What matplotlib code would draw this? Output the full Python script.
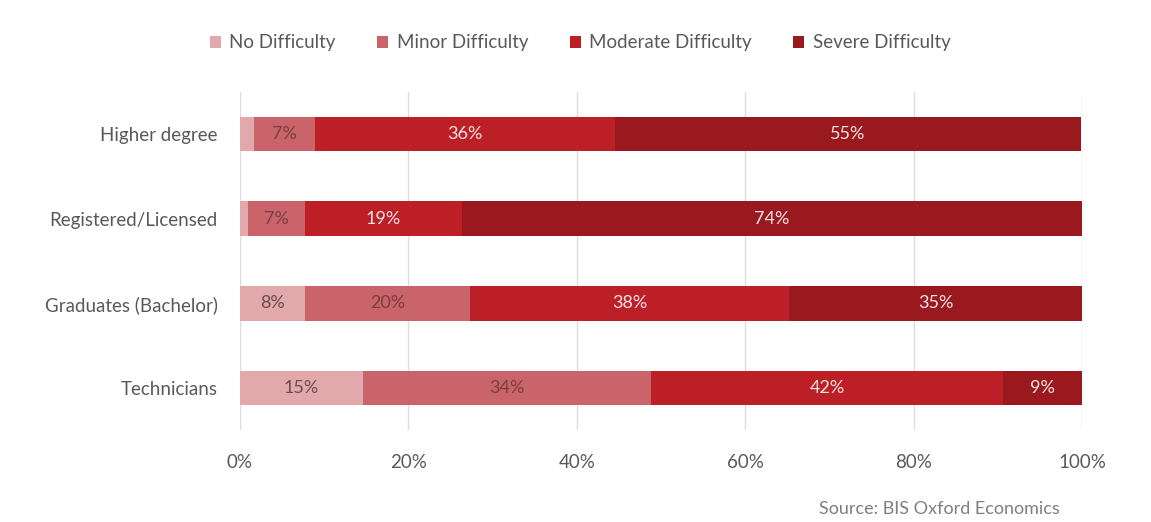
import matplotlib.pyplot as plt
import numpy as np

# Data (share of firms, %)
categories = ["Higher degree", "Registered/Licensed", "Graduates (Bachelor)", "Technicians"]
series_names = ["No Difficulty", "Minor Difficulty", "Moderate Difficulty", "Severe Difficulty"]
no_difficulty = [1.7, 0.9, 7.7, 14.6]
minor_difficulty = [7.2, 6.8, 19.6, 34.2]
moderate_difficulty = [35.6, 18.7, 37.9, 41.8]
severe_difficulty = [55.4, 73.6, 34.8, 9.4]

colors = ["#E2A9AD", "#C9646A", "#BD1F26", "#9A191E"]
label_colors = ["#6E4A4C", "#7A3E42", "#F7E3E3", "#F7E3E3"]


def main():
    plt.rcParams['font.family'] = ['Lato', 'DejaVu Sans']
    fig = plt.figure(figsize=(11.51, 5.22), dpi=100)
    ax = fig.add_axes([0.2085, 0.1753, 0.7316, 0.6494])

    series = [no_difficulty, minor_difficulty, moderate_difficulty, severe_difficulty]
    y = np.arange(len(categories))
    left = np.zeros(len(categories))
    for name, vals, col, lcol in zip(series_names, series, colors, label_colors):
        vals = np.array(vals)
        bars = ax.barh(y, vals, left=left, height=0.41, color=col, label=name, zorder=3)
        for b, v in zip(bars, vals):
            if v >= 4:
                ax.text(b.get_x() + b.get_width() / 2, b.get_y() + b.get_height() / 2,
                        f"{round(v)}%", ha="center", va="center", color=lcol,
                        fontsize=13, zorder=4)
        left += vals

    ax.set_xlim(0, 100)
    ax.set_ylim(len(categories) - 0.5, -0.5)
    ax.set_yticks(y)
    ax.set_yticklabels(categories)
    ax.set_xticks(np.arange(0, 101, 20))
    ax.set_xticklabels([f"{t}%" for t in range(0, 101, 20)])
    ax.tick_params(axis="both", length=0, labelsize=13.5, colors="#595959")
    ax.tick_params(axis="x", pad=17)
    ax.tick_params(axis="y", pad=16)
    ax.grid(axis="x", color="#DCDCDC", linewidth=1, zorder=0)
    for s in ax.spines.values():
        s.set_visible(False)

    leg = ax.legend(loc="center", bbox_to_anchor=(0.404, 1.144), ncol=4, frameon=False,
                    fontsize=13.5, handlelength=0.6, handleheight=0.6, handletextpad=0.45,
                    columnspacing=2.2)
    for t in leg.get_texts():
        t.set_color("#595959")

    fig.text(0.921, 0.01, "Source: BIS Oxford Economics", ha="right", va="bottom",
             fontsize=13, color="#7F7F7F")

    fig.savefig("out.png", dpi=100)


if __name__ == "__main__":
    main()
